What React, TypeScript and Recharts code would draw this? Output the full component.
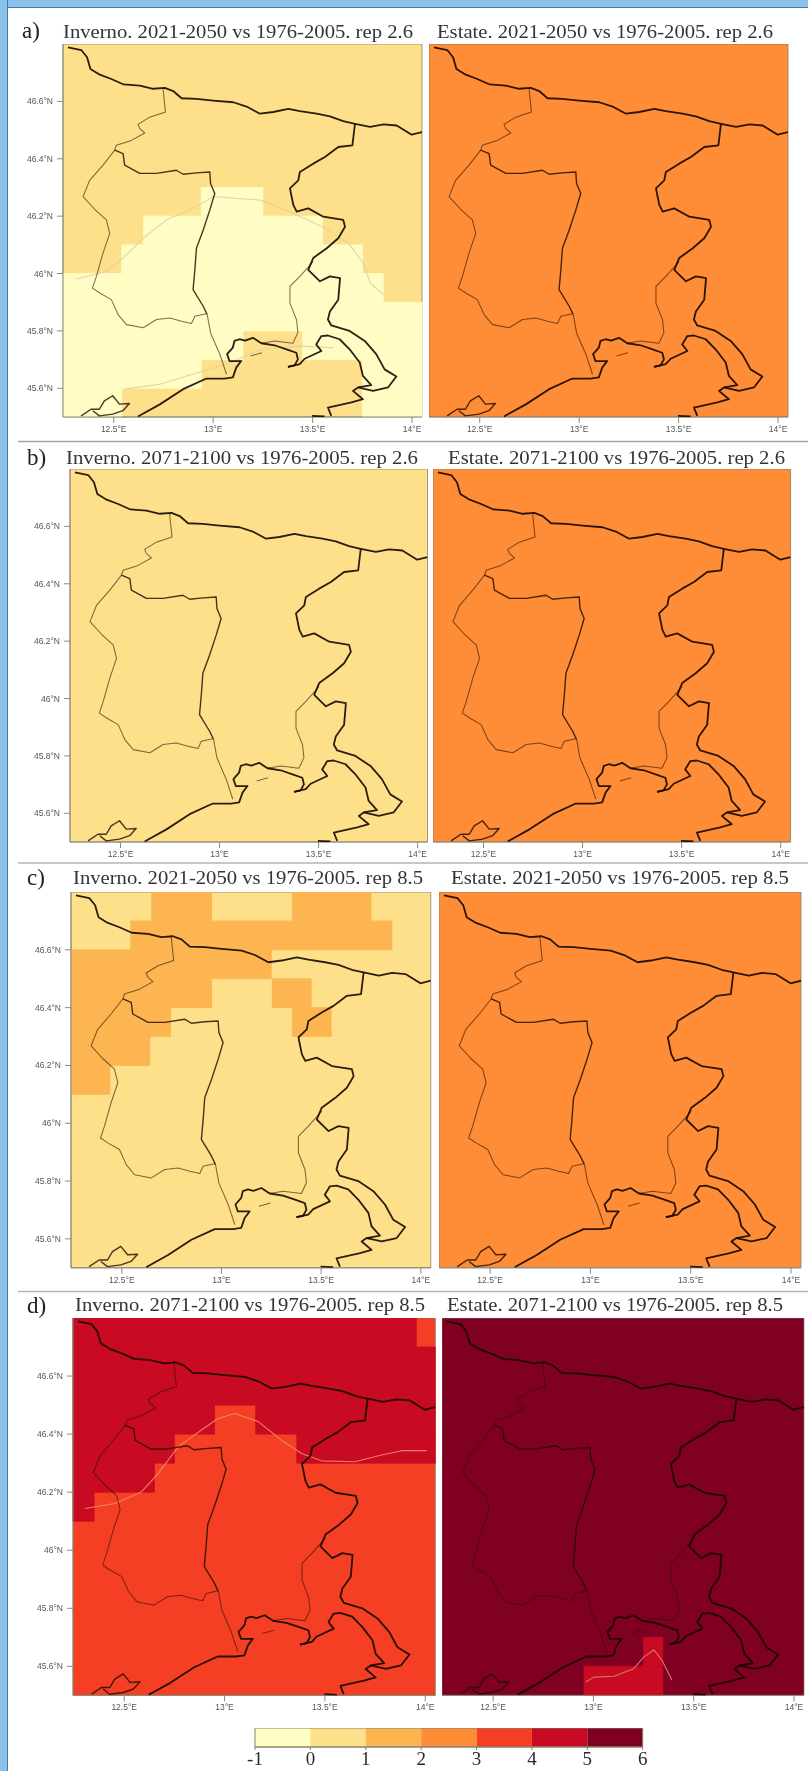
import React from "react";
import { ScatterChart, Scatter, XAxis, YAxis, ReferenceArea } from "recharts";

// map window, degrees
const LON_MIN = 12.245;
const LON_MAX = 14.05;
const LAT_MIN = 45.5;
const LAT_MAX = 46.8;

const lonTicks = [12.5, 13, 13.5, 14];
const latTicks = [45.6, 45.8, 46, 46.2, 46.4, 46.6];
const binEdges = [-1, 0, 1, 2, 3, 4, 5, 6];
const binColors = ["#FFFCC4", "#FEE08A", "#FDB552", "#FF8C36", "#F43F25", "#C80A22", "#800024"];

// [lon, lat] outlines
const northBorder = [
  [12.27, 46.788], [12.337, 46.779], [12.366, 46.754], [12.383, 46.713], [12.43, 46.693], [12.488, 46.678],
  [12.55, 46.659], [12.631, 46.655], [12.698, 46.644], [12.757, 46.647], [12.799, 46.636], [12.841, 46.611],
  [12.916, 46.609], [13.0, 46.603], [13.101, 46.597], [13.168, 46.582], [13.235, 46.557], [13.302, 46.563],
  [13.378, 46.574], [13.436, 46.566], [13.52, 46.557], [13.587, 46.548], [13.654, 46.531], [13.713, 46.522],
  [13.789, 46.511], [13.856, 46.52], [13.923, 46.516], [13.998, 46.484], [14.05, 46.493],
];
const westLine = [
  [12.748, 46.644], [12.76, 46.563], [12.681, 46.545], [12.622, 46.52], [12.631, 46.505], [12.656, 46.49],
  [12.589, 46.464], [12.513, 46.447], [12.505, 46.43], [12.446, 46.378], [12.379, 46.325], [12.346, 46.268],
  [12.404, 46.224], [12.463, 46.187], [12.48, 46.14], [12.446, 46.071], [12.413, 45.99], [12.393, 45.949],
  [12.43, 45.932], [12.488, 45.909], [12.522, 45.857], [12.564, 45.822], [12.648, 45.811], [12.715, 45.84],
  [12.782, 45.845], [12.841, 45.834], [12.891, 45.826], [12.908, 45.851], [12.966, 45.86],
];
const centralLine = [
  [12.505, 46.43], [12.547, 46.418], [12.555, 46.378], [12.631, 46.349], [12.715, 46.349], [12.815, 46.36],
  [12.849, 46.346], [12.916, 46.351], [12.983, 46.354], [12.987, 46.314], [13.008, 46.279], [12.983, 46.221],
  [12.95, 46.152], [12.916, 46.088], [12.908, 46.013], [12.899, 45.944], [12.95, 45.886], [12.97, 45.857],
];
const riverLine = [[12.97, 45.857], [12.987, 45.793], [13.034, 45.718], [13.067, 45.649]];
const eastBorder = [
  [13.713, 46.522], [13.7, 46.447], [13.629, 46.441], [13.562, 46.406], [13.503, 46.383], [13.436, 46.354],
  [13.428, 46.325], [13.386, 46.297], [13.403, 46.239], [13.42, 46.216], [13.478, 46.227], [13.554, 46.198],
  [13.654, 46.187], [13.663, 46.163], [13.629, 46.123], [13.571, 46.088], [13.503, 46.054], [13.478, 46.013],
  [13.537, 45.973], [13.587, 45.99], [13.638, 45.984], [13.629, 45.909], [13.587, 45.868], [13.577, 45.84],
  [13.594, 45.819], [13.686, 45.8], [13.762, 45.765], [13.82, 45.719], [13.862, 45.666], [13.921, 45.641],
  [13.879, 45.603], [13.804, 45.591], [13.728, 45.603],
];
const istriaCoast = [
  [13.376, 45.675], [13.435, 45.684], [13.46, 45.703], [13.544, 45.73], [13.518, 45.753], [13.544, 45.782],
  [13.577, 45.784], [13.636, 45.771], [13.686, 45.736], [13.737, 45.69], [13.753, 45.643], [13.795, 45.611],
  [13.728, 45.603], [13.703, 45.591], [13.753, 45.562], [13.695, 45.551], [13.577, 45.533], [13.594, 45.504],
];
const istriaStub = [[13.497, 45.504], [13.56, 45.502]];
const gulfCoast = [
  [12.622, 45.502], [12.732, 45.544], [12.849, 45.597], [12.966, 45.634], [13.057, 45.634], [13.099, 45.638],
  [13.116, 45.672], [13.141, 45.695], [13.082, 45.695], [13.07, 45.719], [13.099, 45.742], [13.107, 45.765],
  [13.133, 45.771], [13.16, 45.766], [13.2, 45.776], [13.242, 45.757], [13.309, 45.75], [13.376, 45.734],
  [13.418, 45.724], [13.426, 45.701], [13.409, 45.68], [13.376, 45.675],
];
const innerLine = [
  [13.503, 46.042], [13.436, 45.99], [13.386, 45.955], [13.386, 45.897], [13.419, 45.839], [13.426, 45.794],
  [13.401, 45.757], [13.309, 45.765], [13.242, 45.757],
];
const lagoon = [
  [12.336, 45.504], [12.386, 45.527], [12.428, 45.527], [12.453, 45.556], [12.495, 45.574], [12.529, 45.545],
  [12.579, 45.547], [12.546, 45.522], [12.495, 45.51], [12.428, 45.504], [12.395, 45.522],
];
const lagoonDash = [[13.188, 45.713], [13.245, 45.724]];

// pale contour lines
const contourA1 = [
  [12.312, 45.981], [12.463, 46.007], [12.547, 46.054], [12.648, 46.123], [12.765, 46.187], [12.916, 46.233],
  [13.0, 46.268], [13.235, 46.256], [13.403, 46.21], [13.545, 46.164], [13.68, 46.106], [13.755, 46.036],
  [13.789, 45.967], [13.856, 45.926],
];
const contourA2 = [
  [12.555, 45.597], [12.732, 45.614], [12.866, 45.643], [13.067, 45.683], [13.235, 45.735], [13.436, 45.747], [13.604, 45.741],
];
const contourD1 = [
  [12.304, 46.144], [12.453, 46.161], [12.586, 46.201], [12.669, 46.264], [12.769, 46.356], [12.885, 46.414],
  [12.968, 46.454], [13.051, 46.471], [13.168, 46.443], [13.284, 46.379], [13.384, 46.333], [13.483, 46.308],
  [13.649, 46.305], [13.782, 46.328], [13.882, 46.343], [14.007, 46.343],
];
const contourD2 = [
  [12.961, 45.546], [13.002, 45.563], [13.102, 45.566], [13.201, 45.592], [13.251, 45.632], [13.301, 45.657],
  [13.342, 45.621], [13.392, 45.552],
];

// grid cell runs: [lonFrom, lonTo, latFrom, latTo, bin]
const cellsA = [
  [12.94, 13.25, 46.2, 46.3, 0],
  [12.65, 13.55, 46.1, 46.2, 0],
  [12.54, 13.75, 46.0, 46.1, 0],
  [LON_MIN, 13.855, 45.9, 46.0, 0],
  [LON_MIN, LON_MAX, 45.8, 45.9, 0],
  [LON_MIN, 13.15, 45.7, 45.8, 0],
  [13.45, LON_MAX, 45.7, 45.8, 0],
  [LON_MIN, 12.94, 45.6, 45.7, 0],
  [13.75, LON_MAX, 45.6, 45.7, 0],
  [LON_MIN, 12.54, LAT_MIN, 45.6, 0],
  [13.75, LON_MAX, LAT_MIN, 45.6, 0],
];
const cellsC = [
  [12.65, 12.95, 46.7, LAT_MAX, 2],
  [13.355, 13.75, 46.7, LAT_MAX, 2],
  [12.545, 13.855, 46.6, 46.7, 2],
  [LON_MIN, 13.25, 46.5, 46.6, 2],
  [LON_MIN, 12.95, 46.4, 46.5, 2],
  [13.255, 13.45, 46.4, 46.5, 2],
  [LON_MIN, 12.745, 46.3, 46.4, 2],
  [13.355, 13.55, 46.3, 46.4, 2],
  [LON_MIN, 12.64, 46.2, 46.3, 2],
  [LON_MIN, 12.44, 46.1, 46.2, 2],
];
const cellsD = [
  [LON_MIN, 13.955, 46.7, LAT_MAX, 5],
  [LON_MIN, LON_MAX, 46.5, 46.7, 5],
  [LON_MIN, 12.95, 46.4, 46.5, 5],
  [13.155, LON_MAX, 46.4, 46.5, 5],
  [LON_MIN, 12.75, 46.3, 46.4, 5],
  [13.36, LON_MAX, 46.3, 46.4, 5],
  [LON_MIN, 12.65, 46.2, 46.3, 5],
  [LON_MIN, 12.35, 46.1, 46.2, 5],
];
const cellsH = [
  [13.25, 13.346, 45.6, 45.7, 5],
  [12.953, 13.346, LAT_MIN, 45.6, 5],
];

const panels = [
  { key: "a1", title: "Inverno. 2021-2050 vs 1976-2005. rep 2.6", base: 1, cells: cellsA, contours: [contourA1, contourA2], contourColor: "#d9d3a6", box: [63, 422, 44, 417], titleBox: [63, 413, 38] },
  { key: "a2", title: "Estate. 2021-2050 vs 1976-2005. rep 2.6", base: 3, cells: [], contours: [], contourColor: "", box: [429.3, 788.3, 44, 417], titleBox: [437, 773, 38] },
  { key: "b1", title: "Inverno. 2071-2100 vs 1976-2005. rep 2.6", base: 1, cells: [], contours: [], contourColor: "", box: [69.5, 427, 469.3, 842.3], titleBox: [66, 418, 464] },
  { key: "b2", title: "Estate. 2071-2100 vs 1976-2005. rep 2.6", base: 3, cells: [], contours: [], contourColor: "", box: [433.4, 791, 469.3, 842.3], titleBox: [448, 785, 464] },
  { key: "c1", title: "Inverno. 2021-2050 vs 1976-2005. rep 8.5", base: 1, cells: cellsC, contours: [], contourColor: "", box: [70.7, 430.5, 891.7, 1267.5], titleBox: [73, 423, 884] },
  { key: "c2", title: "Estate. 2021-2050 vs 1976-2005. rep 8.5", base: 3, cells: [], contours: [], contourColor: "", box: [438.5, 800.5, 891.7, 1267.5], titleBox: [451, 789, 884] },
  { key: "d1", title: "Inverno. 2071-2100 vs 1976-2005. rep 8.5", base: 4, cells: cellsD, contours: [contourD1], contourColor: "#f58a63", box: [72.7, 435, 1318.3, 1695.7], titleBox: [75, 425, 1311] },
  { key: "d2", title: "Estate. 2071-2100 vs 1976-2005. rep 8.5", base: 6, cells: cellsH, contours: [contourD2], contourColor: "#dd7f70", box: [442, 804, 1318.3, 1695.7], titleBox: [447, 783, 1311] },
];

const panelLetters = [
  { label: "a)", x: 22, y: 38 },
  { label: "b)", x: 27, y: 465 },
  { label: "c)", x: 27, y: 885 },
  { label: "d)", x: 27, y: 1313 },
];
const separators = [
  { y: 441.5, color: "#9aa3ab" },
  { y: 863, color: "#b5b5b5" },
  { y: 1291.5, color: "#b5b5b5" },
];

const thickLines = [northBorder, eastBorder, istriaCoast, istriaStub, gulfCoast];
const mediumLines = [centralLine, lagoon];
const thinLines = [westLine, riverLine, innerLine, lagoonDash];

const toPoints = (pairs: number[][]) => pairs.map(([lon, lat]) => ({ lon, lat }));
const formatLon = (v: number) => `${v}°E`;
const formatLat = (v: number) => `${v}°N`;
const NoDot = () => <g />;

const Y_AXIS_W = 60;
const X_AXIS_H = 28;
const RIGHT_PAD = 12;
const tickStyle = { fontSize: 8.5, fontFamily: "Liberation Sans", fill: "#555" };

function MapPanel({ panel, showLat }: { panel: (typeof panels)[number]; showLat: boolean }) {
  const [l, r, t, b] = panel.box;
  const yw = showLat ? Y_AXIS_W : 0;
  const outline = (pairs: number[][], key: string, stroke: string, width: number, opacity: number) => (
    <Scatter
      key={key}
      data={toPoints(pairs)}
      dataKey="lat"
      shape={NoDot}
      line={{ stroke, strokeWidth: width, strokeOpacity: opacity, fill: "none", strokeLinejoin: "round" }}
      isAnimationActive={false}
    />
  );
  return (
    <div style={{ position: "absolute", left: l - yw, top: t }}>
      <ScatterChart
        width={r - l + yw + RIGHT_PAD}
        height={b - t + X_AXIS_H}
        margin={{ top: 0, right: RIGHT_PAD, bottom: 0, left: 0 }}
      >
        <XAxis
          type="number"
          dataKey="lon"
          domain={[LON_MIN, LON_MAX]}
          allowDataOverflow
          ticks={lonTicks}
          tickFormatter={formatLon}
          interval={0}
          height={X_AXIS_H}
          tickSize={6}
          tickMargin={3}
          tick={tickStyle}
          stroke="#8b8b80"
        />
        <YAxis
          type="number"
          dataKey="lat"
          domain={[LAT_MIN, LAT_MAX]}
          allowDataOverflow
          ticks={latTicks}
          tickFormatter={formatLat}
          interval={0}
          hide={!showLat}
          width={yw}
          tickSize={6}
          tickMargin={4}
          tick={tickStyle}
          stroke="#8b8b80"
        />
        <ReferenceArea
          x1={LON_MIN}
          x2={LON_MAX}
          y1={LAT_MIN}
          y2={LAT_MAX}
          fill={binColors[panel.base]}
          fillOpacity={1}
          stroke="#7a7460"
          strokeOpacity={0.7}
        />
        {panel.cells.map((c, i) => (
          <ReferenceArea
            key={i}
            x1={c[0]}
            x2={c[1]}
            y1={c[2]}
            y2={c[3]}
            fill={binColors[c[4]]}
            fillOpacity={1}
            stroke={binColors[c[4]]}
            strokeWidth={0.8}
          />
        ))}
        {panel.contours.map((c, i) => outline(c, `contour${i}`, panel.contourColor, 1.1, 0.9))}
        {thinLines.map((c, i) => outline(c, `thin${i}`, "#2a1200", 1.05, 0.6))}
        {mediumLines.map((c, i) => outline(c, `medium${i}`, "#1e0e00", 1.4, 0.82))}
        {thickLines.map((c, i) => outline(c, `thick${i}`, "#140800", 1.8, 0.9))}
      </ScatterChart>
    </div>
  );
}

function ColorBar() {
  const pad = 22;
  return (
    <div style={{ position: "absolute", left: 255 - pad, top: 1728 }}>
      <ScatterChart width={387.7 + pad * 2} height={43} margin={{ top: 0, right: pad, bottom: 0, left: pad }}>
        <XAxis
          type="number"
          dataKey="bin"
          domain={[-1, 6]}
          ticks={binEdges}
          interval={0}
          height={24}
          tickSize={3}
          tickMargin={2}
          tick={{ fontSize: 19, fontFamily: "Liberation Serif", fill: "#2b2b2b" }}
          stroke="#85856a"
        />
        <YAxis type="number" dataKey="v" domain={[0, 1]} hide width={0} />
        {binColors.map((color, i) => (
          <ReferenceArea
            key={i}
            x1={binEdges[i]}
            x2={binEdges[i + 1]}
            y1={0}
            y2={1}
            fill={color}
            fillOpacity={1}
            stroke="none"
          />
        ))}
        <ReferenceArea x1={-1} x2={6} y1={0} y2={1} fillOpacity={0} stroke="#85856a" />
        <Scatter data={binEdges.map((bin) => ({ bin, v: 0 }))} dataKey="v" shape={NoDot} isAnimationActive={false} />
      </ScatterChart>
    </div>
  );
}

export default function App() {
  return (
    <div
      style={{
        position: "absolute",
        left: 0,
        top: 0,
        width: 808,
        height: 1771,
        overflow: "hidden",
        background: "#fff",
        filter: "blur(0.6px)",
      }}
    >
      {/* blue frame, only top and left */}
      <div style={{ position: "absolute", left: 0, top: 0, width: 808, height: 7, background: "#8CC0E6", borderBottom: "1.5px solid #2F7FC1" }} />
      <div style={{ position: "absolute", left: 0, top: 0, width: 7, height: 1771, background: "#8CC0E6", borderRight: "1.5px solid #2F7FC1" }} />

      <svg width={808} height={1771} style={{ position: "absolute", left: 0, top: 0 }}>
        {separators.map((s) => (
          <line key={s.y} x1={18} x2={808} y1={s.y} y2={s.y} stroke={s.color} strokeWidth={1.5} />
        ))}
        {panelLetters.map((p) => (
          <text key={p.label} x={p.x} y={p.y} fontFamily="Liberation Serif" fontSize={23} fill="#222">
            {p.label}
          </text>
        ))}
        {panels.map((p) => (
          <text
            key={p.key}
            x={p.titleBox[0]}
            y={p.titleBox[2]}
            textLength={p.titleBox[1] - p.titleBox[0]}
            lengthAdjust="spacingAndGlyphs"
            fontFamily="Liberation Serif"
            fontSize={19}
            fill="#33333c"
          >
            {p.title}
          </text>
        ))}
      </svg>

      {panels.map((p, i) => (
        <MapPanel key={p.key} panel={p} showLat={i % 2 === 0} />
      ))}
      <ColorBar />
    </div>
  );
}
